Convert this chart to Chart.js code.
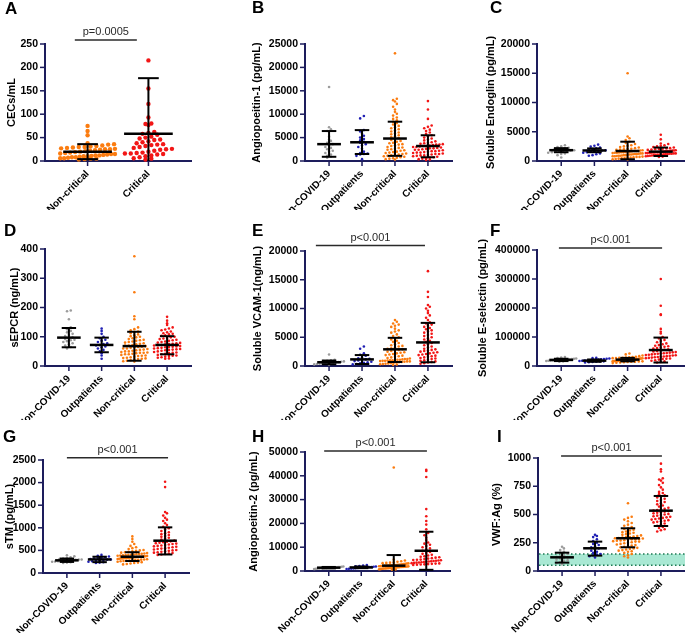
<!DOCTYPE html>
<html>
<head>
<meta charset="utf-8">
<script src="https://cdn.jsdelivr.net/npm/chart.js@4"></script>
<style>
  body { margin: 0; background: #fff; width: 685px; height: 633px; position: relative; overflow: hidden; }
  canvas { position: absolute; }
  .letter { position: absolute; font: bold 17px 'Liberation Sans', Arial, sans-serif; line-height: 17px; color: #000; }
</style>
</head>
<body>
<script>
'use strict'
/* global Chart */

const groups = ['Non-COVID-19', 'Outpatients', 'Non-critical', 'Critical']
const groupsA = ['Non-critical', 'Critical']

// A - CECs/mL
const cecNonCritical = [75, 64, 55, 38, 36, 35, 33, 32, 31, 30, 30, 29, 28, 27, 26, 25, 25, 24, 23, 22, 21, 20, 19, 18, 17, 16, 15, 15, 14, 13, 12, 12, 11, 10, 10, 9, 8, 8, 7, 6, 6, 5, 5, 4, 3]
const cecCritical = [215, 155, 122, 93, 80, 79, 77, 62, 60, 58, 56, 52, 50, 48, 46, 45, 42, 40, 38, 36, 35, 34, 32, 30, 28, 26, 25, 24, 22, 20, 18, 17, 16, 16, 15, 14, 12, 10, 8, 6, 5, 3]
const cecMean = [20, 58]
const cecLow = [4, 0]
const cecHigh = [36, 177]

// B - Angiopoeitin-1
const ang1NonCovid = [15800, 7200, 6800, 6400, 5200, 4600, 4300, 3900, 3600, 3300, 3000, 2800, 2500, 2200, 2000, 1700, 1400, 1100, 900, 700]
const ang1Outpatients = [9600, 9100, 6600, 6300, 5800, 5400, 5000, 4700, 4400, 4100, 3900, 3600, 3300, 3000, 2600, 2000, 1700, 1600, 1500, 1400, 1100, 400]
const ang1NonCritical = [23000, 13300, 13000, 12700, 12200, 11600, 11000, 10500, 10100, 9700, 9300, 9000, 8700, 8400, 8100, 7800, 7500, 7200, 7000, 6800, 6500, 6300, 6100, 5900, 5700, 5500, 5300, 5100, 4900, 4700, 4500, 4300, 4100, 3900, 3800, 3600, 3500, 3300, 3200, 3000, 2900, 2800, 2600, 2500, 2400, 2300, 2200, 2000, 1900, 1800, 1700, 1600, 1500, 1400, 1300, 1200, 1100, 1000, 900, 800, 700, 600, 500, 400, 300]
const ang1Critical = [12800, 11000, 9000, 7600, 7300, 7000, 6700, 6400, 6100, 5800, 5500, 5300, 5000, 4800, 4600, 4400, 4200, 4000, 3900, 3800, 3700, 3600, 3500, 3500, 3400, 3300, 3200, 3200, 3100, 3000, 3000, 2900, 2800, 2700, 2700, 2600, 2500, 2400, 2400, 2300, 2200, 2100, 2100, 2000, 1900, 1800, 1800, 1700, 1600, 1500, 1500, 1400, 1300, 1200, 1200, 1100, 1000, 900, 800, 700, 600, 500, 400, 300, 200]
const ang1Mean = [3600, 4000, 4800, 3200]
const ang1Low = [900, 1500, 1100, 800]
const ang1High = [6400, 6600, 8400, 5500]

// C - Soluble Endoglin
const engNonCovid = [2700, 2500, 2400, 2250, 2150, 2050, 1950, 1900, 1850, 1800, 1750, 1700, 1650, 1600, 1500, 1400, 1300, 1200, 1000, 600]
const engOutpatients = [2800, 2600, 2450, 2300, 2150, 2050, 1950, 1850, 1800, 1750, 1700, 1600, 1500, 1400, 1300, 1150, 1000, 900]
const engNonCritical = [15000, 4200, 3900, 3600, 3300, 3100, 2900, 2700, 2600, 2500, 2400, 2300, 2200, 2100, 2050, 2000, 1950, 1900, 1850, 1800, 1750, 1700, 1700, 1650, 1600, 1600, 1550, 1500, 1500, 1450, 1400, 1400, 1350, 1300, 1300, 1250, 1200, 1200, 1150, 1100, 1100, 1050, 1000, 1000, 950, 900, 900, 850, 800, 800, 750, 700, 700, 650, 600, 550, 500, 450, 400, 350, 300, 250]
const engCritical = [4500, 3700, 3000, 2900, 2700, 2600, 2500, 2400, 2300, 2200, 2150, 2100, 2050, 2000, 1950, 1900, 1850, 1800, 1800, 1750, 1700, 1700, 1650, 1600, 1600, 1550, 1550, 1500, 1500, 1450, 1450, 1400, 1400, 1350, 1350, 1300, 1300, 1250, 1250, 1200, 1200, 1150, 1100, 1100, 1050, 1000, 1000, 950, 900, 850, 800, 750, 700]
const engMean = [1850, 1800, 1700, 1600]
const engLow = [1500, 1500, 300, 850]
const engHigh = [2200, 2150, 3300, 2300]

// D - sEPCR
const epcrNonCovid = [190, 187, 160, 132, 126, 120, 115, 110, 106, 102, 98, 95, 92, 90, 88, 85, 82, 78, 74, 70, 65, 60]
const epcrOutpatients = [128, 120, 110, 100, 95, 90, 86, 82, 78, 75, 72, 70, 67, 64, 60, 55, 50, 44, 36, 25]
const epcrNonCritical = [375, 252, 170, 160, 132, 126, 122, 118, 115, 112, 108, 105, 102, 100, 98, 95, 92, 90, 88, 86, 84, 82, 80, 78, 76, 74, 72, 70, 70, 68, 66, 65, 64, 62, 60, 60, 58, 56, 55, 54, 52, 50, 50, 48, 46, 45, 45, 44, 42, 40, 40, 38, 36, 35, 34, 32, 30, 28, 27, 26, 25, 24, 22, 20, 18, 16, 15]
const epcrCritical = [168, 155, 146, 140, 132, 128, 125, 122, 118, 115, 112, 110, 108, 105, 103, 100, 98, 96, 94, 92, 90, 88, 86, 84, 82, 80, 79, 78, 76, 75, 74, 72, 71, 70, 68, 67, 66, 65, 64, 62, 61, 60, 58, 57, 56, 55, 54, 52, 50, 48, 46, 45, 44, 42, 40, 38, 36, 35, 34, 32, 30, 28, 26, 25]
const epcrMean = [97, 72, 68, 72]
const epcrLow = [64, 47, 18, 40]
const epcrHigh = [130, 97, 117, 102]

// E - Soluble VCAM-1
const vcamNonCovid = [2000, 1100, 1000, 920, 860, 800, 750, 700, 650, 620, 580, 540, 500, 450, 400, 350, 280, 220]
const vcamOutpatients = [3400, 3000, 2200, 1950, 1800, 1500, 1350, 1250, 1150, 1050, 950, 850, 750, 650, 550, 450, 350, 280]
const vcamNonCritical = [8000, 7700, 7400, 7200, 7000, 6800, 6500, 6200, 6000, 5800, 5500, 5200, 5000, 4800, 4600, 4400, 4200, 4000, 3800, 3600, 3500, 3400, 3200, 3100, 3000, 2900, 2800, 2700, 2600, 2500, 2400, 2300, 2200, 2100, 2000, 1900, 1800, 1700, 1600, 1500, 1400, 1300, 1200, 1200, 1150, 1100, 1100, 1050, 1000, 1000, 950, 900, 900, 850, 800, 800, 750, 700, 650, 600, 550, 500, 450, 400, 350, 300, 250, 200]
const vcamCritical = [16500, 12900, 12000, 10600, 10300, 10000, 9600, 9200, 8800, 8400, 8000, 7600, 7400, 7200, 7000, 6800, 6600, 6400, 6200, 6000, 5800, 5600, 5400, 5200, 5000, 4800, 4600, 4400, 4200, 4000, 3800, 3600, 3400, 3200, 3000, 2900, 2800, 2700, 2600, 2500, 2400, 2300, 2200, 2100, 2000, 1900, 1800, 1700, 1600, 1500, 1400, 1300, 1200, 1100, 1000, 900, 800, 700, 600, 500, 400]
const vcamMean = [650, 1150, 2900, 4100]
const vcamLow = [300, 350, 700, 650]
const vcamHigh = [950, 1900, 4900, 7500]

// F - Soluble E-selectin
const eselNonCovid = [31000, 29000, 27000, 26000, 25000, 24000, 23500, 23000, 22500, 22000, 21500, 21000, 20500, 20000, 19000, 18500, 18000, 17000, 16000, 15000]
const eselOutpatients = [28000, 27000, 26000, 25000, 24000, 23000, 22000, 21000, 20000, 19500, 19000, 18500, 18000, 17000, 16000, 15500, 15000, 14000, 13000, 12000]
const eselNonCritical = [43000, 40000, 36000, 34000, 32000, 31000, 30000, 29000, 28500, 28000, 27500, 27000, 26500, 26000, 25500, 25000, 24500, 24000, 23500, 23000, 22800, 22500, 22200, 22000, 21800, 21500, 21200, 21000, 20800, 20500, 20200, 20000, 19800, 19500, 19200, 19000, 18700, 18400, 18000, 17600, 17200, 16800, 16400, 16000, 15500, 15000, 14500, 14000, 13000, 12000, 11000, 10000]
const eselCritical = [300000, 208000, 178000, 176000, 128000, 118000, 112000, 100000, 95000, 90000, 86000, 82000, 78000, 75000, 72000, 70000, 68000, 66000, 64000, 62000, 60000, 58000, 56000, 54000, 52000, 50000, 48000, 47000, 46000, 45000, 44000, 43000, 42000, 41000, 40000, 39000, 38000, 37000, 36000, 35000, 34000, 33000, 32000, 31000, 30000, 29000, 28000, 27000, 26000, 25000, 24000, 22000, 20000, 18000, 16000, 14000, 12000]
const eselMean = [21000, 18500, 22000, 55000]
const eselLow = [17000, 14500, 16000, 12000]
const eselHigh = [25000, 22500, 28000, 98000]

// G - sTM
const stmNonCovid = [390, 370, 350, 330, 320, 310, 300, 295, 290, 285, 280, 275, 270, 265, 260, 255, 250, 240, 230, 220]
const stmOutpatients = [400, 380, 365, 350, 340, 330, 320, 310, 300, 295, 290, 280, 270, 260, 250, 240, 230, 220]
const stmNonCritical = [810, 750, 690, 640, 600, 570, 550, 530, 510, 500, 490, 480, 470, 460, 450, 440, 430, 425, 420, 415, 410, 405, 400, 395, 390, 385, 380, 375, 370, 370, 365, 360, 360, 355, 350, 350, 345, 340, 340, 335, 330, 330, 325, 320, 320, 315, 310, 305, 300, 295, 290, 285, 280, 275, 270, 265, 260, 250, 240, 230, 220, 210, 200, 190]
const stmCritical = [2020, 1900, 1350, 1320, 1270, 1220, 1180, 1150, 1100, 1060, 1020, 990, 960, 930, 900, 880, 860, 840, 820, 800, 780, 760, 740, 720, 700, 690, 680, 670, 660, 650, 640, 630, 620, 610, 600, 590, 580, 570, 560, 550, 540, 530, 520, 510, 500, 490, 480, 470, 460, 450, 440, 430, 420, 410, 400]
const stmMean = [280, 300, 360, 715]
const stmLow = [245, 240, 265, 410]
const stmHigh = [320, 360, 460, 1010]

// H - Angiopoeitin-2
const ang2NonCovid = [1900, 1800, 1700, 1650, 1600, 1550, 1500, 1450, 1400, 1350, 1300, 1250, 1200, 1150, 1100, 1000, 900, 800]
const ang2Outpatients = [2500, 2300, 2100, 2000, 1900, 1800, 1700, 1650, 1600, 1500, 1450, 1400, 1300, 1200, 1100, 1000, 900, 800]
const ang2NonCritical = [43500, 4800, 4400, 4100, 3900, 3700, 3500, 3400, 3300, 3200, 3100, 3000, 2900, 2800, 2700, 2650, 2600, 2550, 2500, 2450, 2400, 2350, 2300, 2250, 2200, 2150, 2100, 2050, 2000, 1950, 1900, 1850, 1800, 1750, 1700, 1650, 1600, 1550, 1500, 1450, 1400, 1350, 1300, 1250, 1200, 1150, 1100, 1050, 1000, 900, 800, 700, 600, 500]
const ang2Critical = [42500, 42000, 39500, 26000, 23000, 21000, 19500, 17500, 16000, 15000, 14000, 13000, 12000, 11500, 11000, 10500, 10000, 9500, 9000, 8500, 8000, 7600, 7200, 6800, 6500, 6200, 6000, 5800, 5600, 5400, 5200, 5000, 4800, 4700, 4600, 4500, 4400, 4300, 4200, 4100, 4000, 3900, 3800, 3700, 3600, 3500, 3400, 3300, 3200, 3100, 3000, 2900, 2800, 2700, 2600, 2500]
const ang2Mean = [1400, 1500, 2240, 8500]
const ang2Low = [1100, 1200, 0, 500]
const ang2High = [1700, 1900, 6700, 16500]

// I - VWF:Ag
const vwfNonCovid = [215, 200, 185, 170, 160, 150, 140, 130, 125, 120, 115, 110, 100, 95, 90, 80, 70, 60]
const vwfOutpatients = [320, 310, 300, 280, 265, 250, 240, 230, 220, 210, 200, 190, 180, 170, 160, 150, 145, 140, 130, 120]
const vwfNonCritical = [600, 480, 470, 455, 440, 425, 410, 400, 390, 380, 372, 365, 358, 350, 344, 338, 332, 326, 320, 315, 310, 305, 300, 300, 296, 292, 290, 288, 284, 280, 280, 276, 272, 270, 268, 264, 260, 260, 255, 250, 245, 240, 235, 230, 225, 220, 215, 210, 205, 200, 195, 190, 185, 180, 175, 170, 160, 150, 140, 130, 120]
const vwfCritical = [950, 900, 880, 820, 810, 800, 780, 760, 740, 720, 700, 690, 680, 670, 660, 650, 640, 630, 620, 610, 600, 590, 580, 570, 560, 550, 545, 540, 535, 530, 525, 520, 515, 510, 505, 500, 495, 490, 485, 480, 475, 470, 465, 460, 455, 450, 445, 440, 435, 430, 420, 410, 400, 390, 380, 370, 360, 350]
const vwfMean = [121, 201, 290, 534]
const vwfLow = [74, 136, 210, 398]
const vwfHigh = [162, 260, 378, 664]
const vwfNormalRange = [50, 150]

const colors = {
  'Non-COVID-19': '#9c9c9c',
  Outpatients: '#2020b4',
  'Non-critical': '#fb7c10',
  Critical: '#f21616'
}
const axisColor = '#1d1d5c'
const fontFamily = "'Liberation Sans', Arial, sans-serif"
Chart.defaults.font.family = fontFamily

const p001 = 'p<0.001'
const panels = [
  { letter: 'A', title: 'CECs/mL', labels: groupsA, values: [cecNonCritical, cecCritical], mean: cecMean, low: cecLow, high: cecHigh, yMax: 250, major: 50, minor: 25,
    box: [0, 0, 228, 210], area: [45, 191, 44, 161], xRange: [-0.7, 1.7], titleX: 12, letterPos: [5, 14], dot: 2.2, bar: [0.4, 0.17], p: { text: 'p=0.0005', from: -0.21, to: 0.81, dy: -4 } },
  { letter: 'B', title: 'Angiopoeitin-1 (pg/mL)', labels: groups, values: [ang1NonCovid, ang1Outpatients, ang1NonCritical, ang1Critical], mean: ang1Mean, low: ang1Low, high: ang1High, yMax: 25000, major: 5000, minor: 2500,
    box: [228, 0, 228, 210], area: [305, 452, 44, 161], xRange: [-0.73, 3.73], titleX: 257, letterPos: [252, 13] },
  { letter: 'C', title: 'Soluble Endoglin (pg/mL)', labels: groups, values: [engNonCovid, engOutpatients, engNonCritical, engCritical], mean: engMean, low: engLow, high: engHigh, yMax: 20000, major: 5000, minor: 2500,
    box: [458, 0, 227, 210], area: [537, 685, 44, 161], xRange: [-0.73, 3.73], titleX: 491, letterPos: [490, 13] },
  { letter: 'D', title: 'sEPCR (ng/mL)', labels: groups, values: [epcrNonCovid, epcrOutpatients, epcrNonCritical, epcrCritical], mean: epcrMean, low: epcrLow, high: epcrHigh, yMax: 400, major: 100, minor: 50,
    box: [0, 210, 228, 210], area: [45, 191, 249, 366], xRange: [-0.73, 3.73], titleX: 15, letterPos: [4, 236] },
  { letter: 'E', title: 'Soluble VCAM-1(ng/mL)', labels: groups, values: [vcamNonCovid, vcamOutpatients, vcamNonCritical, vcamCritical], mean: vcamMean, low: vcamLow, high: vcamHigh, yMax: 20000, major: 5000, minor: 2500,
    box: [228, 210, 228, 210], area: [305, 452, 251, 366], xRange: [-0.73, 3.73], titleX: 258, letterPos: [252, 236], p: { text: p001, from: -0.4, to: 2.91, dy: -5.5 } },
  { letter: 'F', title: 'Soluble E-selectin (pg/mL)', labels: groups, values: [eselNonCovid, eselOutpatients, eselNonCritical, eselCritical], mean: eselMean, low: eselLow, high: eselHigh, yMax: 400000, major: 100000, minor: 50000,
    box: [458, 210, 227, 210], area: [537, 685, 250, 366], xRange: [-0.73, 3.73], titleX: 483, letterPos: [490, 236], p: { text: p001, from: -0.07, to: 3.04, dy: -2 } },
  { letter: 'G', title: 'sTM (pg/mL)', labels: groups, values: [stmNonCovid, stmOutpatients, stmNonCritical, stmCritical], mean: stmMean, low: stmLow, high: stmHigh, yMax: 2500, major: 500, minor: 250,
    box: [0, 420, 228, 213], area: [43, 189, 460, 573], xRange: [-0.73, 3.73], titleX: 10, letterPos: [3, 442], p: { text: p001, from: 0, to: 3.09, dy: -2.3 } },
  { letter: 'H', title: 'Angiopoeitin-2 (pg/mL)', labels: groups, values: [ang2NonCovid, ang2Outpatients, ang2NonCritical, ang2Critical], mean: ang2Mean, low: ang2Low, high: ang2High, yMax: 50000, major: 10000, minor: 5000,
    box: [228, 420, 228, 213], area: [305, 450, 452, 571], xRange: [-0.73, 3.73], titleX: 254, letterPos: [252, 442], p: { text: p001, from: -0.14, to: 3.02, dy: -1 } },
  { letter: 'I', title: 'VWF:Ag (%)', labels: groups, values: [vwfNonCovid, vwfOutpatients, vwfNonCritical, vwfCritical], mean: vwfMean, low: vwfLow, high: vwfHigh, yMax: 1000, major: 250, minor: 125,
    box: [458, 420, 227, 213], area: [538, 685, 458, 571], xRange: [-0.73, 3.73], titleX: 497, letterPos: [497, 442], p: { text: p001, from: -0.03, to: 3.03, dy: -2 }, band: vwfNormalRange }
]

// spread the dots of one group sideways, row by row, like a column scatter plot
const swarm = (values, cat, bin, dx, maxHalf) => {
  const rows = new Map()
  values.slice().sort((a, b) => a - b).forEach(v => {
    const r = Math.round(v / bin)
    if (!rows.has(r)) rows.set(r, [])
    rows.get(r).push(v)
  })
  const pts = []
  rows.forEach(row => {
    const n = row.length
    const step = n > 1 ? Math.min(dx, 2 * maxHalf / (n - 1)) : 0
    row.forEach((v, i) => pts.push({ x: cat + (i - (n - 1) / 2) * step, y: v }))
  })
  return pts
}

const line = (ctx, x1, y1, x2, y2) => {
  ctx.beginPath()
  ctx.moveTo(x1, y1)
  ctx.lineTo(x2, y2)
  ctx.stroke()
}

const decor = {
  id: 'decor',
  beforeDatasetsDraw (chart, args, opts) {
    const p = opts.panel
    if (!p.band) return
    const { ctx, chartArea: a, scales: { y } } = chart
    const y0 = y.getPixelForValue(p.band[0])
    const y1 = y.getPixelForValue(p.band[1])
    ctx.save()
    ctx.fillStyle = 'rgba(112, 216, 182, 0.6)'
    ctx.fillRect(a.left + 1, y1, a.right - a.left, y0 - y1)
    ctx.setLineDash([1.5, 2.5])
    ctx.strokeStyle = '#1d7a52'
    ctx.lineWidth = 1.5
    line(ctx, a.left + 1, y0, a.right, y0)
    line(ctx, a.left + 1, y1, a.right, y1)
    ctx.restore()
  },
  afterDatasetsDraw (chart, args, opts) {
    const p = opts.panel
    const { ctx, scales: { x, y } } = chart
    ctx.save()
    ctx.strokeStyle = '#000'
    p.mean.forEach((m, i) => {
      const cx = x.getPixelForValue(i)
      const w = x.getPixelForValue(i + p.bar[0]) - cx
      const c = x.getPixelForValue(i + p.bar[1]) - cx
      const yl = y.getPixelForValue(p.low[i])
      const yh = y.getPixelForValue(p.high[i])
      ctx.lineWidth = 2
      line(ctx, cx, yl, cx, yh)
      line(ctx, cx - c, yh, cx + c, yh)
      if (p.low[i] > 0) line(ctx, cx - c, yl, cx + c, yl)
      ctx.lineWidth = 2.5
      line(ctx, cx - w, y.getPixelForValue(m), cx + w, y.getPixelForValue(m))
    })
    ctx.restore()
  },
  afterDraw (chart, args, opts) {
    const p = opts.panel
    const { ctx, chartArea: a, scales: { x, y } } = chart
    ctx.save()
    ctx.strokeStyle = axisColor
    ctx.lineWidth = 1.5
    y.ticks.forEach(t => {
      const py = y.getPixelForValue(t.value)
      const len = t.value % p.major === 0 ? 5 : 3
      line(ctx, a.left - len, py, a.left, py)
    })
    p.labels.forEach((g, i) => {
      const px = x.getPixelForValue(i)
      line(ctx, px, a.bottom, px, a.bottom + 5)
    })
    if (p.p) {
      const ly = a.top + p.p.dy
      const x0 = x.getPixelForValue(p.p.from)
      const x1 = x.getPixelForValue(p.p.to)
      ctx.strokeStyle = '#2a2a2a'
      ctx.lineWidth = 1.5
      line(ctx, x0, ly, x1, ly)
      ctx.fillStyle = '#2a2a2a'
      ctx.font = '11px ' + fontFamily
      ctx.textAlign = 'center'
      ctx.textBaseline = 'alphabetic'
      ctx.fillText(p.p.text, (x0 + x1) / 2, ly - 5)
    }
    ctx.restore()
  }
}

panels.forEach(p => {
  const [bx, by, bw, bh] = p.box
  const [l, r, t, b] = p.area
  const [xmin, xmax] = p.xRange
  const dot = p.dot || 1.3
  p.bar = p.bar || [0.36, 0.22]
  const dotPx = dot * 2 + 0.5
  const bin = p.yMax * dotPx / (b - t)
  const dx = 1.2 * dotPx * (xmax - xmin) / (r - l)

  const canvas = document.createElement('canvas')
  canvas.width = bw
  canvas.height = bh
  canvas.style.left = bx + 'px'
  canvas.style.top = by + 'px'
  document.body.appendChild(canvas)

  const letter = document.createElement('div')
  letter.className = 'letter'
  letter.textContent = p.letter
  letter.style.left = p.letterPos[0] + 'px'
  letter.style.top = (p.letterPos[1] - 14.4) + 'px'
  document.body.appendChild(letter)

  const minorTicks = []
  for (let v = 0; v <= p.yMax; v += p.minor) minorTicks.push({ value: v })

  new Chart(canvas.getContext('2d'), {
    type: 'scatter',
    data: {
      datasets: p.labels.map((g, i) => ({
        data: swarm(p.values[i], i, bin, dx, 0.45),
        backgroundColor: colors[g],
        borderWidth: 0,
        pointRadius: dot,
        pointHoverRadius: dot,
        clip: 8
      }))
    },
    options: {
      responsive: false,
      animation: false,
      devicePixelRatio: 1,
      events: [],
      layout: { autoPadding: false, padding: { left: 0, top: t - by, right: bx + bw - r, bottom: 0 } },
      plugins: { legend: { display: false }, tooltip: { enabled: false }, decor: { panel: p } },
      scales: {
        x: {
          type: 'linear',
          min: xmin,
          max: xmax,
          afterBuildTicks: s => { s.ticks = p.labels.map((g, i) => ({ value: i })) },
          afterFit: s => { s.height = by + bh - b },
          grid: { display: false, drawTicks: false },
          border: { color: axisColor, width: 2 },
          ticks: { autoSkip: false, minRotation: 45, maxRotation: 45, padding: 7, color: '#000', font: { size: 10, weight: 'bold' }, callback: v => p.labels[v] }
        },
        y: {
          type: 'linear',
          min: 0,
          max: p.yMax,
          afterBuildTicks: s => { s.ticks = minorTicks.map(tk => ({ value: tk.value })) },
          afterFit: s => { s.width = l - bx },
          grid: { display: false, drawTicks: false },
          border: { color: axisColor, width: 2 },
          ticks: { padding: 7, color: '#000', font: { size: 10.5, weight: 'bold' }, callback: v => (v % p.major === 0 ? String(v) : '') },
          title: { display: true, text: p.title, color: '#000', font: { size: 11, weight: 'bold' }, padding: { top: p.titleX - bx - 6.6, bottom: 0 } }
        }
      }
    },
    plugins: [decor]
  })
})
</script>
</body>
</html>
